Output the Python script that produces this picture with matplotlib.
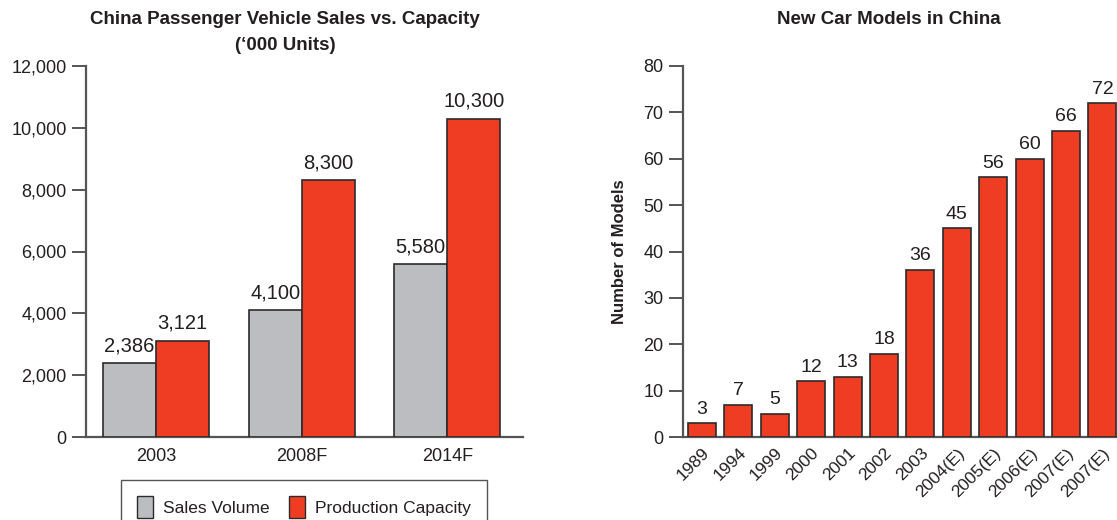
import matplotlib

matplotlib.use("Agg")
import matplotlib.pyplot as plt
from matplotlib.patches import Patch

plt.rcParams["font.family"] = ["Liberation Sans", "DejaVu Sans"]

# left chart data ('000 units)
years_left = ["2003", "2008F", "2014F"]
sales_volume = [2386, 4100, 5580]
production_capacity = [3121, 8300, 10300]
left_yticks = [0, 2000, 4000, 6000, 8000, 10000, 12000]

# right chart data
model_years = ["1989", "1994", "1999", "2000", "2001", "2002", "2003",
               "2004(E)", "2005(E)", "2006(E)", "2007(E)", "2007(E)"]
new_models = [3, 7, 5, 12, 13, 18, 36, 45, 56, 60, 66, 72]
right_yticks = [0, 10, 20, 30, 40, 50, 60, 70, 80]

GRAY = "#bcbdc1"
RED = "#ee3d23"
EDGE = "#2b2b2b"
TXT = "#231f20"
SPINE = "#555555"

W, H = 1117, 520
fig = plt.figure(figsize=(W / 100, H / 100), dpi=100)


def style_axes(ax):
    for s in ("top", "right"):
        ax.spines[s].set_visible(False)
    for s in ("left", "bottom"):
        ax.spines[s].set_color(SPINE)
        ax.spines[s].set_linewidth(1.6)
    ax.tick_params(axis="y", length=10, width=1.4, color=SPINE,
                   labelsize=13, labelcolor=TXT, pad=4)
    ax.tick_params(axis="x", length=0, labelcolor=TXT)


# ── left: sales vs capacity ──────────────────────────────────────────
ax1 = fig.add_axes([86 / W, 1 - 437 / H, (523 - 86) / W, (437 - 66) / H])
bw = 0.364
xs = range(len(years_left))
ax1.bar([x - bw / 2 for x in xs], sales_volume, width=bw, color=GRAY,
        edgecolor=EDGE, linewidth=1.2, zorder=3)
ax1.bar([x + bw / 2 for x in xs], production_capacity, width=bw, color=RED,
        edgecolor=EDGE, linewidth=1.2, zorder=3)
for x, v in zip(xs, sales_volume):
    ax1.text(x - bw / 2, v + 250, f"{v:,}", ha="center", va="bottom",
             fontsize=14.5, color=TXT)
for x, v in zip(xs, production_capacity):
    ax1.text(x + bw / 2, v + 250, f"{v:,}", ha="center", va="bottom",
             fontsize=14.5, color=TXT)
ax1.set_xlim(-0.48, 2.52)
ax1.set_ylim(0, 12000)
ax1.set_yticks(left_yticks)
ax1.set_yticklabels([f"{t:,}" for t in left_yticks])
ax1.set_xticks(list(xs))
ax1.set_xticklabels(years_left, fontsize=13)
style_axes(ax1)
ax1.tick_params(axis="x", pad=8)

fig.text(285 / W, 1 - 20 / H, "China Passenger Vehicle Sales vs. Capacity",
         ha="center", va="center", fontsize=13.5, fontweight="bold", color=TXT)
fig.text(285 / W, 1 - 45 / H, "(\u2018000 Units)",
         ha="center", va="center", fontsize=13.5, fontweight="bold", color=TXT)

handles = [Patch(facecolor=GRAY, edgecolor=EDGE, label="Sales Volume"),
           Patch(facecolor=RED, edgecolor=EDGE, label="Production Capacity")]
leg = fig.legend(handles=handles, loc="upper center", ncol=2,
                 bbox_to_anchor=(304 / W, 1 - 480 / H), frameon=True,
                 fancybox=False, fontsize=12.5, handlelength=0.9,
                 handleheight=1.5, borderpad=0.95, columnspacing=1.1,
                 handletextpad=0.6, borderaxespad=0)
leg.get_frame().set_edgecolor(EDGE)
leg.get_frame().set_linewidth(1.0)
for t in leg.get_texts():
    t.set_color(TXT)

# ── right: new car models ───────────────────────────────────────────
ax2 = fig.add_axes([683 / W, 1 - 437 / H, (W - 683) / W, (437 - 66) / H])
pos = list(range(len(model_years)))
ax2.bar(pos, new_models, width=0.77, color=RED, edgecolor=EDGE,
        linewidth=1.2, zorder=3)
for x, v in zip(pos, new_models):
    ax2.text(x, v + 1.2, str(v), ha="center", va="bottom", fontsize=14,
             color=TXT)
ax2.set_xlim(-0.52, 11.4)
ax2.set_ylim(0, 80)
ax2.set_yticks(right_yticks)
ax2.set_xticks(pos)
ax2.set_xticklabels(model_years, rotation=45, ha="right",
                    rotation_mode="anchor", fontsize=12.5)
style_axes(ax2)
ax2.tick_params(axis="x", pad=6)
ax2.set_ylabel("Number of Models", fontsize=12, fontweight="bold",
               color=TXT, labelpad=12)

fig.text(889 / W, 1 - 20 / H, "New Car Models in China", ha="center",
         va="center", fontsize=13.5, fontweight="bold", color=TXT)

fig.savefig("out.png", dpi=100)
